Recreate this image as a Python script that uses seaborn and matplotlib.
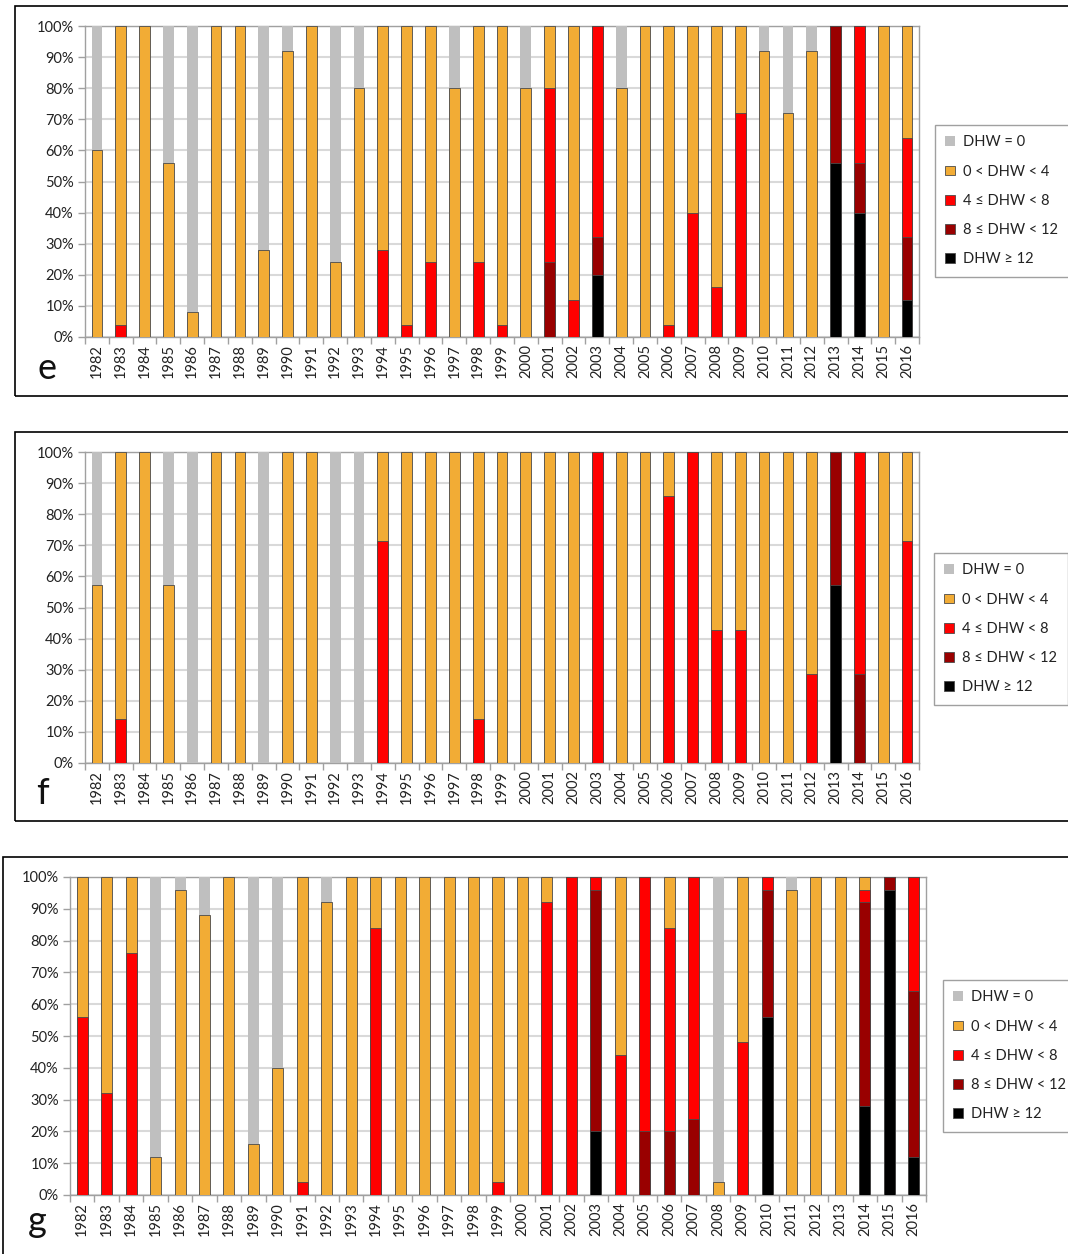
import numpy as np
import matplotlib
matplotlib.use('Agg')
import matplotlib.pyplot as plt
import seaborn as sns
from matplotlib.patches import Patch, Rectangle

# categories
years = [str(y) for y in range(1982, 2017)]
labels = ['DHW = 0', '0 < DHW < 4', '4 \u2264 DHW < 8', '8 \u2264 DHW < 12', 'DHW \u2265 12']
colors = ['#bfbfbf', '#f2ac35', '#ff0000', '#990000', '#000000']

# panel e (% of area in each DHW class)
e_zero = [40, 0, 0, 44, 92, 0, 0, 72, 8, 0,
          76, 20, 0, 0, 0, 20, 0, 0, 20, 0,
          0, 0, 20, 0, 0, 0, 0, 0, 8, 28,
          8, 0, 0, 0, 0]
e_0_4 = [60, 96, 100, 56, 8, 100, 100, 28, 92, 100,
         24, 80, 72, 96, 76, 80, 76, 96, 80, 20,
         88, 0, 80, 100, 96, 60, 84, 28, 92, 72,
         92, 0, 0, 100, 36]
e_4_8 = [0, 4, 0, 0, 0, 0, 0, 0, 0, 0,
         0, 0, 28, 4, 24, 0, 24, 4, 0, 56,
         12, 68, 0, 0, 4, 40, 16, 72, 0, 0,
         0, 0, 44, 0, 32]
e_8_12 = [0, 0, 0, 0, 0, 0, 0, 0, 0, 0,
          0, 0, 0, 0, 0, 0, 0, 0, 0, 24,
          0, 12, 0, 0, 0, 0, 0, 0, 0, 0,
          0, 44, 16, 0, 20]
e_ge12 = [0, 0, 0, 0, 0, 0, 0, 0, 0, 0,
          0, 0, 0, 0, 0, 0, 0, 0, 0, 0,
          0, 20, 0, 0, 0, 0, 0, 0, 0, 0,
          0, 56, 40, 0, 12]

# panel f
f_zero = [42.9, 0, 0, 42.9, 100, 0, 0, 100, 0, 0,
          100, 100, 0, 0, 0, 0, 0, 0, 0, 0,
          0, 0, 0, 0, 0, 0, 0, 0, 0, 0,
          0, 0, 0, 0, 0]
f_0_4 = [57.1, 85.7, 100, 57.1, 0, 100, 100, 0, 100, 100,
         0, 0, 28.6, 100, 100, 100, 85.7, 100, 100, 100,
         100, 0, 100, 100, 14.3, 0, 57.1, 57.1, 100, 100,
         71.4, 0, 0, 100, 28.6]
f_4_8 = [0, 14.3, 0, 0, 0, 0, 0, 0, 0, 0,
         0, 0, 71.4, 0, 0, 0, 14.3, 0, 0, 0,
         0, 100, 0, 0, 85.7, 100, 42.9, 42.9, 0, 0,
         28.6, 0, 71.4, 0, 71.4]
f_8_12 = [0, 0, 0, 0, 0, 0, 0, 0, 0, 0,
          0, 0, 0, 0, 0, 0, 0, 0, 0, 0,
          0, 0, 0, 0, 0, 0, 0, 0, 0, 0,
          0, 42.9, 28.6, 0, 0]
f_ge12 = [0, 0, 0, 0, 0, 0, 0, 0, 0, 0,
          0, 0, 0, 0, 0, 0, 0, 0, 0, 0,
          0, 0, 0, 0, 0, 0, 0, 0, 0, 0,
          0, 57.1, 0, 0, 0]

# panel g
g_zero = [0, 0, 0, 88, 4, 12, 0, 84, 60, 0,
          8, 0, 0, 0, 0, 0, 0, 0, 0, 0,
          0, 0, 0, 0, 0, 0, 96, 0, 0, 4,
          0, 0, 0, 0, 0]
g_0_4 = [44, 68, 24, 12, 96, 88, 100, 16, 40, 96,
         92, 100, 16, 100, 100, 100, 100, 96, 100, 8,
         0, 0, 56, 0, 16, 0, 4, 52, 0, 96,
         100, 100, 4, 0, 0]
g_4_8 = [56, 32, 76, 0, 0, 0, 0, 0, 0, 4,
         0, 0, 84, 0, 0, 0, 0, 4, 0, 92,
         100, 4, 44, 80, 64, 76, 0, 48, 4, 0,
         0, 0, 4, 0, 36]
g_8_12 = [0, 0, 0, 0, 0, 0, 0, 0, 0, 0,
          0, 0, 0, 0, 0, 0, 0, 0, 0, 0,
          0, 76, 0, 20, 20, 24, 0, 0, 40, 0,
          0, 0, 64, 4, 52]
g_ge12 = [0, 0, 0, 0, 0, 0, 0, 0, 0, 0,
          0, 0, 0, 0, 0, 0, 0, 0, 0, 0,
          0, 20, 0, 0, 0, 0, 0, 0, 56, 0,
          0, 0, 28, 96, 12]

sns.set_theme(style='white')
plt.rcParams['font.family'] = ['Lato', 'DejaVu Sans']

W, H = 1068, 1254
fig = plt.figure(figsize=(W / 100, H / 100), dpi=100)

grid_col = '#d9d9d9'
spine_col = '#a0a0a0'
edge_col = '#4a4a4a'


def draw_panel(box, frame, letter, letter_xy, legend_xy, layers):
    l, t, r, b = box
    ax = fig.add_axes([l / W, 1 - b / H, (r - l) / W, (b - t) / H])
    # stacked bars drawn as overlapping cumulative bars (top class first)
    ge12, d8, d4, d0, zero = [np.array(v, dtype=float) for v in layers]
    cums = [ge12, ge12 + d8, ge12 + d8 + d4, ge12 + d8 + d4 + d0,
            ge12 + d8 + d4 + d0 + zero]
    for i in range(4, -1, -1):
        sns.barplot(x=years, y=cums[i], color=colors[4 - i], saturation=1,
                    width=0.45, errorbar=None, ax=ax,
                    edgecolor='none' if i == 4 else edge_col,
                    linewidth=0 if i == 4 else 0.6, zorder=3)
    ax.set_xlim(-0.5, len(years) - 0.5)
    ax.set_ylim(0, 100)
    ax.set_yticks(np.arange(0, 101, 10))
    ax.set_yticklabels([f'{v}%' for v in range(0, 101, 10)])
    ax.set_xticks(range(len(years)))
    ax.set_xticklabels(years, rotation=90)
    ax.set_xticks(np.arange(-0.5, len(years), 1), minor=True)
    ax.set_xlabel('')
    ax.set_ylabel('')
    ax.yaxis.grid(True, color=grid_col, linewidth=1.5, zorder=0)
    ax.set_axisbelow(True)
    for s in ax.spines.values():
        s.set_color(spine_col)
        s.set_linewidth(1.0)
    ax.tick_params(axis='x', which='major', length=0, pad=5,
                   labelsize=10.5, labelcolor='#222222')
    ax.tick_params(axis='x', which='minor', length=5, width=1,
                   color=spine_col, direction='out', bottom=True)
    ax.tick_params(axis='y', length=5, width=1, color=spine_col,
                   direction='out', left=True, pad=3,
                   labelsize=10.5, labelcolor='#222222')

    fx, ft, fb = frame
    fig.add_artist(Rectangle((fx / W, 1 - fb / H), (W + 50 - fx) / W,
                             (fb - ft) / H, transform=fig.transFigure,
                             fill=False, edgecolor='black', linewidth=1.2,
                             clip_on=False))
    fig.text(letter_xy[0] / W, 1 - letter_xy[1] / H, letter, fontsize=26,
             ha='center', va='baseline', color='#111111')

    handles = [Patch(facecolor=colors[0], edgecolor='none')]
    handles += [Patch(facecolor=c, edgecolor=edge_col, linewidth=0.6)
                for c in colors[1:]]
    leg = fig.legend(handles, labels, loc='upper left',
                     bbox_to_anchor=(legend_xy[0] / W, 1 - legend_xy[1] / H),
                     bbox_transform=fig.transFigure, frameon=True,
                     fancybox=False, edgecolor=spine_col, framealpha=1,
                     fontsize=10.5, handlelength=0.65, handleheight=0.65,
                     handletextpad=0.6, labelspacing=1.05, borderpad=0.7,
                     borderaxespad=0)
    leg.get_frame().set_linewidth(1.0)
    for txt in leg.get_texts():
        txt.set_color('#222222')
    return ax


draw_panel((85, 26, 919, 337), (15, 6, 396), 'e', (47, 379), (935, 125),
           [e_ge12, e_8_12, e_4_8, e_0_4, e_zero])
draw_panel((85, 452, 919, 763), (15, 432, 821), 'f', (42, 804), (934, 553),
           [f_ge12, f_8_12, f_4_8, f_0_4, f_zero])
draw_panel((70, 877, 926, 1195), (3, 857, 1300), 'g', (37, 1232), (943, 980),
           [g_ge12, g_8_12, g_4_8, g_0_4, g_zero])

fig.savefig('out.png', dpi=100, facecolor='white')
